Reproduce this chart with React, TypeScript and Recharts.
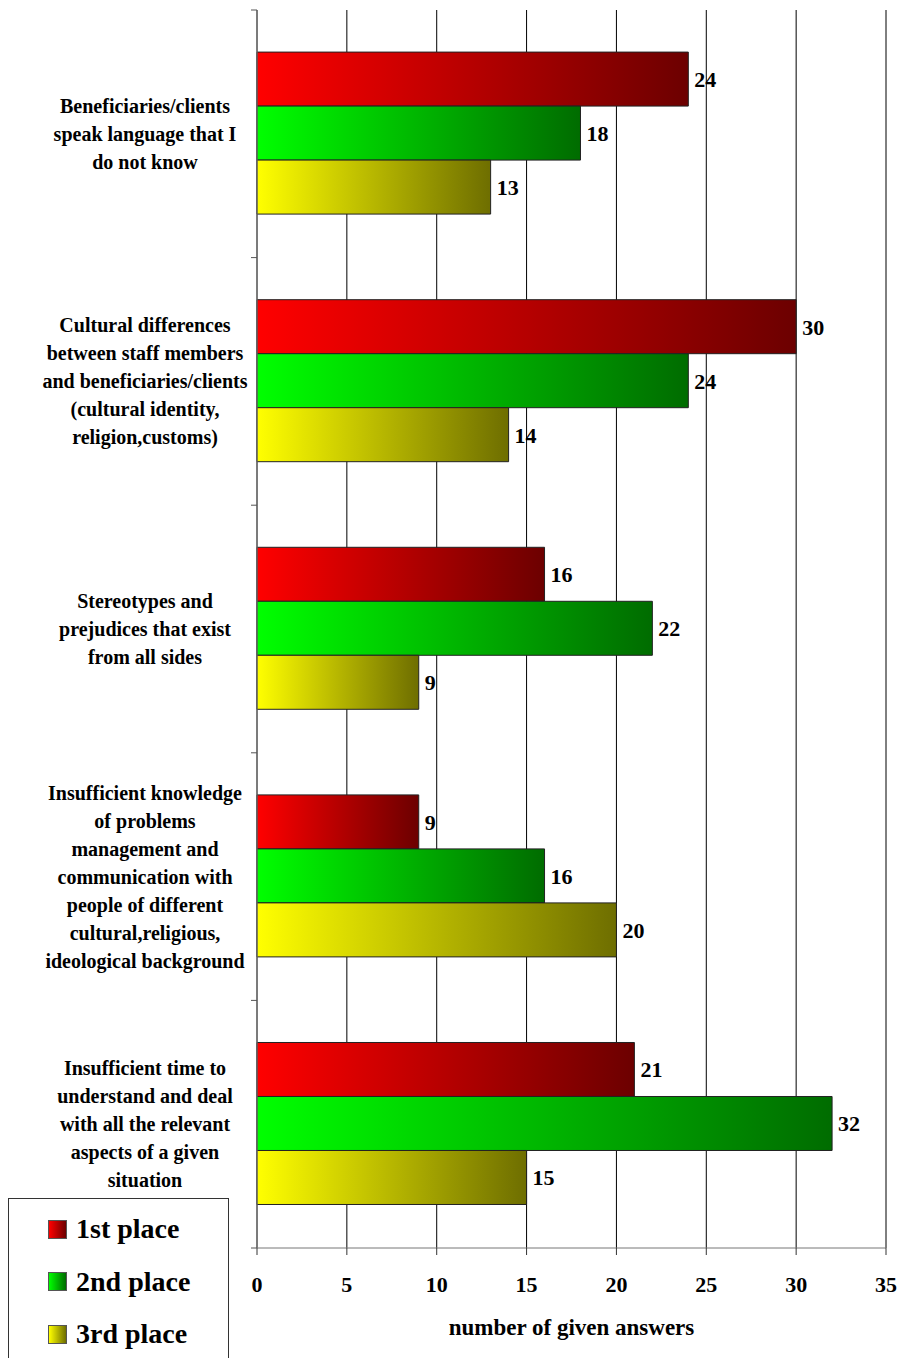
import React from "react"
import { Bar, BarChart, XAxis, YAxis, CartesianGrid, LabelList } from "recharts"

const categories = [
  "Beneficiaries/clients speak language that I do not know",
  "Cultural differences between staff members and beneficiaries/clients (cultural identity, religion,customs)",
  "Stereotypes and prejudices that exist from all sides",
  "Insufficient knowledge of problems management and communication with people of different cultural,religious, ideological background",
  "Insufficient time to understand and deal with all the relevant aspects of a given situation",
]

const categoryLines = [
  ["Beneficiaries/clients", "speak language that I", "do not know"],
  ["Cultural differences", "between staff members", "and beneficiaries/clients", "(cultural identity,", "religion,customs)"],
  ["Stereotypes and", "prejudices that exist", "from all sides"],
  [
    "Insufficient knowledge",
    "of problems",
    "management and",
    "communication with",
    "people of different",
    "cultural,religious,",
    "ideological background",
  ],
  ["Insufficient time to", "understand and deal", "with all the relevant", "aspects of a given", "situation"],
]

const firstPlace = [24, 30, 16, 9, 21]
const secondPlace = [18, 24, 22, 16, 32]
const thirdPlace = [13, 14, 9, 20, 15]

const seriesNames = ["1st place", "2nd place", "3rd place"]
const xTicks = [0, 5, 10, 15, 20, 25, 30, 35]

const data = categories.map((name, i) => ({
  name,
  first: firstPlace[i],
  second: secondPlace[i],
  third: thirdPlace[i],
}))

const FONT = '"Liberation Serif", "Times New Roman", serif'
const W = 899
const H = 1358
const TOP = 10
const AXIS_W = 257
const XAXIS_H = 110
const PLOT_H = H - TOP - XAXIS_H
const BAND = PLOT_H / categories.length
const LINE_H = 28

const gradients = [
  { id: "gRed", from: "#ff0000", to: "#6c0000" },
  { id: "gGreen", from: "#00ff00", to: "#006c00" },
  { id: "gYellow", from: "#ffff00", to: "#6e6e00" },
]

function CategoryTick(props: any) {
  const { y, payload } = props
  const idx = categories.indexOf(payload.value)
  const lines = categoryLines[idx] || [payload.value]
  const start = -((lines.length - 1) / 2) * LINE_H + 7
  return (
    <g>
      <line x1={AXIS_W - 6} x2={AXIS_W} y1={y - BAND / 2} y2={y - BAND / 2} stroke="#555" />
      {idx === categories.length - 1 && (
        <line x1={AXIS_W - 6} x2={AXIS_W} y1={y + BAND / 2} y2={y + BAND / 2} stroke="#555" />
      )}
      <text
        x={145}
        y={y + start}
        textAnchor="middle"
        fontFamily={FONT}
        fontWeight="bold"
        fontSize={20}
        fill="#000"
      >
        {lines.map((l, i) => (
          <tspan key={i} x={145} dy={i === 0 ? 0 : LINE_H}>
            {l}
          </tspan>
        ))}
      </text>
    </g>
  )
}

const labelStyle = { fontFamily: FONT, fontWeight: "bold", fontSize: 22, fill: "#000" }

export default function App() {
  return (
    <div style={{ position: "absolute", left: 0, top: 0, width: W, height: H, background: "#fff", overflow: "hidden" }}>
      <BarChart
        width={W}
        height={H}
        data={data}
        layout="vertical"
        margin={{ top: TOP, right: 13, bottom: 0, left: 0 }}
        barCategoryGap="17%"
        barGap={0}
      >
        <defs>
          {gradients.map((g) => (
            <linearGradient key={g.id} id={g.id} x1="0" y1="0" x2="1" y2="0">
              <stop offset="0%" stopColor={g.from} />
              <stop offset="100%" stopColor={g.to} />
            </linearGradient>
          ))}
        </defs>
        <CartesianGrid horizontal={false} stroke="#000" />
        <XAxis
          type="number"
          domain={[0, 35]}
          ticks={xTicks}
          height={XAXIS_H}
          axisLine={{ stroke: "#777" }}
          tickLine={{ stroke: "#333" }}
          tickSize={7}
          tickMargin={21}
          tick={{ fontFamily: FONT, fontWeight: "bold", fontSize: 22, fill: "#000" }}
          label={{
            value: "number of given answers",
            position: "insideBottom",
            offset: 23,
            style: { fontFamily: FONT, fontWeight: "bold", fontSize: 23, fill: "#000" },
          }}
        />
        <YAxis
          type="category"
          dataKey="name"
          width={AXIS_W}
          axisLine={{ stroke: "#777" }}
          tickLine={false}
          tick={<CategoryTick />}
          interval={0}
        />
        <Bar dataKey="first" name={seriesNames[0]} fill="url(#gRed)" stroke="#222" strokeWidth={1} isAnimationActive={false}>
          <LabelList dataKey="first" position="right" offset={6} style={labelStyle} />
        </Bar>
        <Bar dataKey="second" name={seriesNames[1]} fill="url(#gGreen)" stroke="#222" strokeWidth={1} isAnimationActive={false}>
          <LabelList dataKey="second" position="right" offset={6} style={labelStyle} />
        </Bar>
        <Bar dataKey="third" name={seriesNames[2]} fill="url(#gYellow)" stroke="#222" strokeWidth={1} isAnimationActive={false}>
          <LabelList dataKey="third" position="right" offset={6} style={labelStyle} />
        </Bar>
      </BarChart>
      <div
        style={{
          position: "absolute",
          left: 8,
          top: 1198,
          width: 219,
          height: 175,
          border: "1px solid #333",
          background: "#fff",
          fontFamily: FONT,
          fontWeight: "bold",
          fontSize: 28,
        }}
      >
        {seriesNames.map((n, i) => (
          <div
            key={n}
            style={{ position: "absolute", left: 39, top: 30 - 18 + i * 52.5, height: 36, display: "flex", alignItems: "center" }}
          >
            <span
              style={{
                display: "inline-block",
                width: 17,
                height: 17,
                border: "1px solid #555",
                background: `linear-gradient(to right, ${gradients[i].from}, ${gradients[i].to})`,
                marginRight: 9,
              }}
            />
            <span>{n}</span>
          </div>
        ))}
      </div>
    </div>
  )
}
